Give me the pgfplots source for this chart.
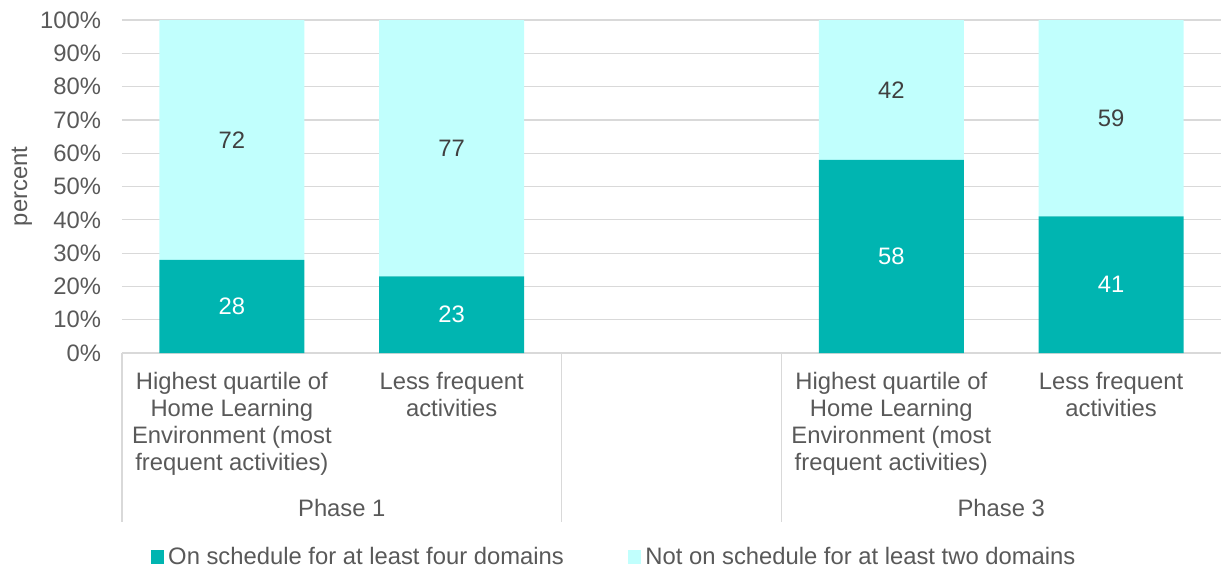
\documentclass[border=0pt]{standalone}
\usepackage{fontspec}
\setmainfont{Liberation Sans}
\usepackage{pgfplots}
\pgfplotsset{compat=1.18}

\definecolor{teal1}{HTML}{00B5B1}
\definecolor{cyan1}{HTML}{C1FFFD}
\definecolor{txt}{HTML}{595959}
\definecolor{gridc}{HTML}{D9D9D9}

\newcommand{\chartfont}{\fontsize{11.9pt}{13.5pt}\selectfont}

\begin{document}
\begin{tikzpicture}
% 1 px = 0.5 pt, origin at bottom left of the plot area
\path[use as bounding box] (-61pt,-108.5pt) rectangle (549.5pt,176.5pt);
\begin{axis}[
  at={(0,0)}, anchor=south west,
  scale only axis,
  width=549.5pt, height=166.5pt,
  ybar stacked,
  bar width=0.66,
  xmin=-0.5, xmax=4.5,
  ymin=0, ymax=100,
  ytick={0,10,...,100},
  yticklabel={\pgfmathprintnumber{\tick}\%},
  xtick={0,1,3,4},
  xticklabels={
    {Highest quartile of\\Home Learning\\Environment (most\\frequent activities)},
    {Less frequent\\activities},
    {Highest quartile of\\Home Learning\\Environment (most\\frequent activities)},
    {Less frequent\\activities}},
  xticklabel style={align=center, font=\chartfont, text=txt, yshift=-6pt},
  yticklabel style={font=\chartfont, text=txt, xshift=-7pt},
  major tick length=0pt,
  /pgf/number format/assume math mode=true,
  axis line style={draw=none},
  ymajorgrids,
  grid style={gridc, line width=0.6pt},
  clip=false,
  ylabel={percent},
  every axis y label/.style={at={(axis description cs:-0.091,0.5)}, anchor=center, rotate=90, font=\chartfont, text=txt},
  legend columns=2,
  legend style={at={(rel axis cs:0.4486,-0.6126)}, anchor=center, draw=none,
    font=\chartfont, text=txt,
    /tikz/every even column/.append style={column sep=30pt}},
  legend image code/.code={\fill[#1] (0pt,-3.4pt) rectangle (6.8pt,3.4pt);},
]
\addplot[fill=teal1, draw=none] coordinates {(0,28) (1,23) (3,58) (4,41)};
\addlegendentry{On schedule for at least four domains}
\addplot[fill=cyan1, draw=none] coordinates {(0,72) (1,77) (3,42) (4,59)};
\addlegendentry{Not on schedule for at least two domains}

% group separators and group names
\draw[gridc, line width=0.6pt] (axis cs:-0.5,0) -- ([yshift=-84.5pt]axis cs:-0.5,0);
\draw[gridc, line width=0.6pt] (axis cs:1.5,0) -- ([yshift=-84.5pt]axis cs:1.5,0);
\draw[gridc, line width=0.6pt] (axis cs:2.5,0) -- ([yshift=-84.5pt]axis cs:2.5,0);
\node[font=\chartfont, text=txt] at ([yshift=-77.5pt]axis cs:0.5,0) {Phase 1};
\node[font=\chartfont, text=txt] at ([yshift=-77.5pt]axis cs:3.5,0) {Phase 3};
\end{axis}

% data labels at the middle of each segment
\begin{axis}[
  at={(0,0)}, anchor=south west,
  scale only axis,
  width=549.5pt, height=166.5pt,
  xmin=-0.5, xmax=4.5,
  ymin=0, ymax=100,
  hide axis,
  clip=false,
  nodes near coords,
  point meta=explicit symbolic,
  every node near coord/.append style={anchor=center, font=\chartfont},
]
\addplot[draw=none, mark=none, nodes near coords style={text=white}] coordinates {
  (0,14) [28] (1,11.5) [23] (3,29) [58] (4,20.5) [41]};
\addplot[draw=none, mark=none, nodes near coords style={text=black!75}] coordinates {
  (0,64) [72] (1,61.5) [77] (3,79) [42] (4,70.5) [59]};
\end{axis}
\end{tikzpicture}
\end{document}
